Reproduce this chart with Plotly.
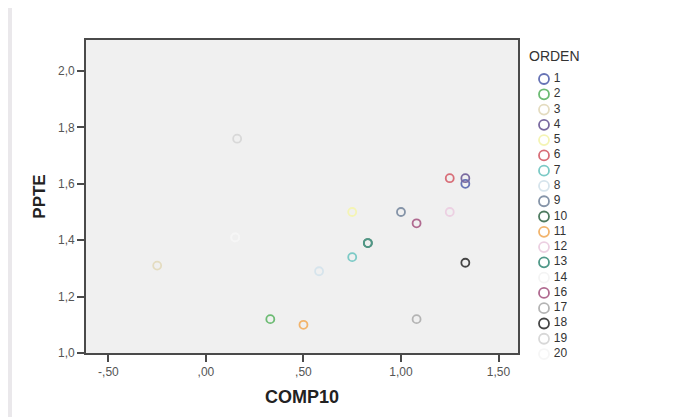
import plotly.graph_objects as go

# ---------------- data ----------------
orden = [1, 2, 3, 4, 5, 6, 7, 8, 9, 10, 11, 12, 13, 14, 16, 17, 18, 19, 20]
comp10 = [1.33, 0.33, -0.25, 1.33, 0.75, 1.25, 0.75, 0.58, 1.00, 0.83,
          0.50, 1.25, 0.83, 0.15, 1.08, 1.08, 1.33, 0.16, 0.15]
ppte = [1.60, 1.12, 1.31, 1.62, 1.50, 1.62, 1.34, 1.29, 1.50, 1.39,
        1.10, 1.50, 1.39, 1.41, 1.46, 1.12, 1.32, 1.76, 1.41]
colors = ["#6673b5", "#6cbb73", "#e4dcc0", "#7a6aa0", "#f4f4b4", "#d86e78",
          "#7ccac6", "#d6e4ec", "#8594a8", "#4f7b60", "#f2b46c", "#ecd0e2",
          "#4f9888", "#f4f4f4", "#b06a90", "#b4b4b4", "#454545", "#d8d8d8",
          "#f6f6f6"]

x_tickvals = [-0.5, 0.0, 0.5, 1.0, 1.5]
x_ticktext = ["-,50", ",00", ",50", "1,00", "1,50"]
y_tickvals = [1.0, 1.2, 1.4, 1.6, 1.8, 2.0]
y_ticktext = ["1,0", "1,2", "1,4", "1,6", "1,8", "2,0"]

# ---------------- layout helpers (page pixels -> paper) ----------------
OFF = 8                      # page body margin
W, H = 692 - OFF, 417 - OFF
def px(x):
    return (x - OFF) / W
def py(y):
    return 1 - (y - OFF) / H

FONT = "Liberation Sans, Arial, sans-serif"

fig = go.Figure()

# main scatter: one trace per ORDEN
for o, xv, yv, c in zip(orden, comp10, ppte, colors):
    fig.add_trace(go.Scatter(
        x=[xv], y=[yv], mode="markers", name=str(o), showlegend=False,
        marker=dict(symbol="circle-open", size=8, color=c, line=dict(width=1.8, color=c)),
        xaxis="x", yaxis="y",
    ))

# legend built on a hidden helper axis: markers + labels
leg_rows = list(range(len(orden)))
fig.add_trace(go.Scatter(
    x=[0] * len(orden), y=leg_rows, mode="markers",
    marker=dict(symbol="circle-open", size=10, color=colors, line=dict(width=1.8, color=colors)),
    showlegend=False, xaxis="x2", yaxis="y2", cliponaxis=False, hoverinfo="skip",
))
fig.add_trace(go.Scatter(
    x=[0.14] * len(orden), y=leg_rows, mode="text",
    text=[str(o) for o in orden], textposition="middle right",
    textfont=dict(family=FONT, size=12, color="#333333"),
    showlegend=False, xaxis="x2", yaxis="y2", cliponaxis=False, hoverinfo="skip",
))

# legend axis geometry
leg_top_px, leg_bot_px = 40, 380
first_px, step_px = 79, 15.28
r_top = (leg_top_px - first_px) / step_px
r_bot = (leg_bot_px - first_px) / step_px
lx0, lx1 = 530, 600
mx = 544
rx0 = -(mx - lx0) / (lx1 - lx0)
rx1 = rx0 + 1

fig.update_layout(
    width=W, height=H,
    margin=dict(l=0, r=0, t=0, b=0),
    paper_bgcolor="#eae8eb",
    plot_bgcolor="rgba(0,0,0,0)",
    showlegend=False,
    font=dict(family=FONT, size=12, color="#555555"),
    xaxis=dict(
        domain=[px(86), px(518)], range=[-0.615, 1.600],
        tickvals=x_tickvals, ticktext=x_ticktext,
        ticks="outside", ticklen=7, tickwidth=1.6, tickcolor="#4a4a4a",
        showline=True, linecolor="#4a4a4a", linewidth=1.8, mirror=True,
        showgrid=False, zeroline=False,
        tickfont=dict(family=FONT, size=12, color="#555555"),
        title=dict(text="<b>COMP10</b>", font=dict(family=FONT, size=18, color="#222222"), standoff=12),
        automargin=False,
    ),
    yaxis=dict(
        domain=[py(353), py(40)], range=[1.0, 2.11],
        tickvals=y_tickvals, ticktext=y_ticktext,
        ticks="outside", ticklen=7, tickwidth=1.6, tickcolor="#4a4a4a",
        showline=True, linecolor="#4a4a4a", linewidth=1.8, mirror=True,
        showgrid=False, zeroline=False,
        tickfont=dict(family=FONT, size=12, color="#555555"),
        title=dict(text="<b>PPTE</b>", font=dict(family=FONT, size=17, color="#222222"), standoff=8),
        automargin=False,
    ),
    xaxis2=dict(domain=[px(lx0), px(lx1)], range=[rx0, rx1], visible=False, fixedrange=True),
    yaxis2=dict(domain=[py(leg_bot_px), py(leg_top_px)], range=[r_bot, r_top],
                visible=False, fixedrange=True, anchor="x2"),
    shapes=[
        dict(type="rect", xref="paper", yref="paper", x0=px(12), x1=px(688), y0=-0.01, y1=1.01,
             fillcolor="#ffffff", line=dict(width=0), layer="below"),
        dict(type="rect", xref="x domain", yref="y domain", x0=0, x1=1, y0=0, y1=1,
             fillcolor="#f0f0f0", line=dict(width=0), layer="below"),
    ],
    annotations=[
        dict(text="ORDEN", xref="paper", yref="paper", x=px(527), y=py(56),
             xanchor="left", yanchor="middle", showarrow=False,
             font=dict(family=FONT, size=14, color="#333333")),
    ],
)
fig.layout.xaxis2.anchor = "y2"

fig.write_html("out.html")
